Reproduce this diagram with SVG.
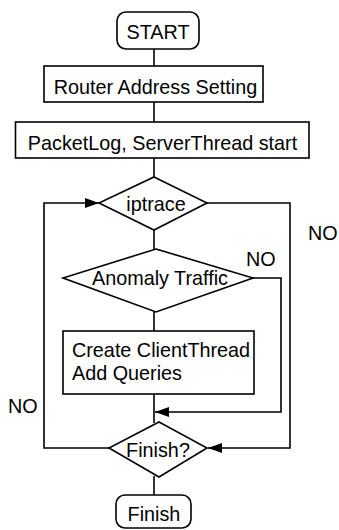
<svg xmlns="http://www.w3.org/2000/svg" width="339" height="530" viewBox="0 0 339 530">
  <style>
    .shape { fill: #fff; stroke: #000; stroke-width: 1.6; }
    .wire { fill: none; stroke: #000; stroke-width: 1.6; }
    .label { font-family: "Liberation Sans", Arial, sans-serif; font-size: 19.8px; fill: #000; }
    .mid { text-anchor: middle; }
  </style>
  <defs>
    <marker id="arrow" markerUnits="userSpaceOnUse" markerWidth="14" markerHeight="10" refX="14" refY="5" orient="auto">
      <path d="M0,0 L14,5 L0,10 Z" fill="#000"/>
    </marker>
  </defs>
  <rect width="339" height="530" fill="#fff"/>

  <!-- connectors -->
  <g id="connectors">
    <line class="wire" x1="154" y1="49" x2="154" y2="66"/>
    <line class="wire" x1="154" y1="102" x2="154" y2="122"/>
    <line class="wire" x1="154" y1="158" x2="154" y2="177"/>
    <line class="wire" x1="154" y1="230" x2="154" y2="249"/>
    <line class="wire" x1="154" y1="312" x2="154" y2="331"/>
    <line class="wire" x1="154" y1="394" x2="154" y2="423"/>
    <line class="wire" x1="154" y1="476" x2="154" y2="495"/>
    <!-- Finish? NO back to iptrace -->
    <polyline class="wire" points="109,448 44,448 44,203 99,203" marker-end="url(#arrow)"/>
    <!-- iptrace NO down to Finish? -->
    <polyline class="wire" points="207,203 290,203 290,448 208,448" marker-end="url(#arrow)"/>
    <!-- Anomaly Traffic NO bypass -->
    <polyline class="wire" points="253,278 281,278 281,412 155,412" marker-end="url(#arrow)"/>
    <text class="label" x="308" y="240">NO</text>
    <text class="label" x="246" y="266">NO</text>
    <text class="label" x="8" y="413">NO</text>
  </g>

  <g id="start">
    <rect class="shape" x="117" y="12" width="82" height="37" rx="9"/>
    <text class="label mid" x="158" y="39">START</text>
  </g>

  <g id="router-address">
    <rect class="shape" x="44" y="66" width="219" height="36"/>
    <text class="label mid" x="155.5" y="94">Router Address Setting</text>
  </g>

  <g id="packetlog">
    <rect class="shape" x="15.5" y="122" width="293.5" height="36"/>
    <text class="label mid" x="162.5" y="149.5">PacketLog, ServerThread start</text>
  </g>

  <g id="iptrace">
    <polygon class="shape" points="154,177 207,203 154,230 99,203"/>
    <text class="label mid" x="156" y="211">iptrace</text>
  </g>

  <g id="anomaly">
    <polygon class="shape" points="156,249 253,278 156,312 63,278"/>
    <text class="label mid" x="160" y="285">Anomaly Traffic</text>
  </g>

  <g id="client-thread">
    <rect class="shape" x="63" y="331" width="191" height="63"/>
    <text class="label" x="72" y="357">Create ClientThread</text>
    <text class="label" x="72" y="380">Add Queries</text>
  </g>

  <g id="finish-check">
    <polygon class="shape" points="159,422 207,448 159,477 109,448"/>
    <text class="label mid" x="158" y="457">Finish?</text>
  </g>

  <g id="finish">
    <rect class="shape" x="116" y="495" width="75" height="33" rx="9"/>
    <text class="label mid" x="154" y="521">Finish</text>
  </g>
</svg>
